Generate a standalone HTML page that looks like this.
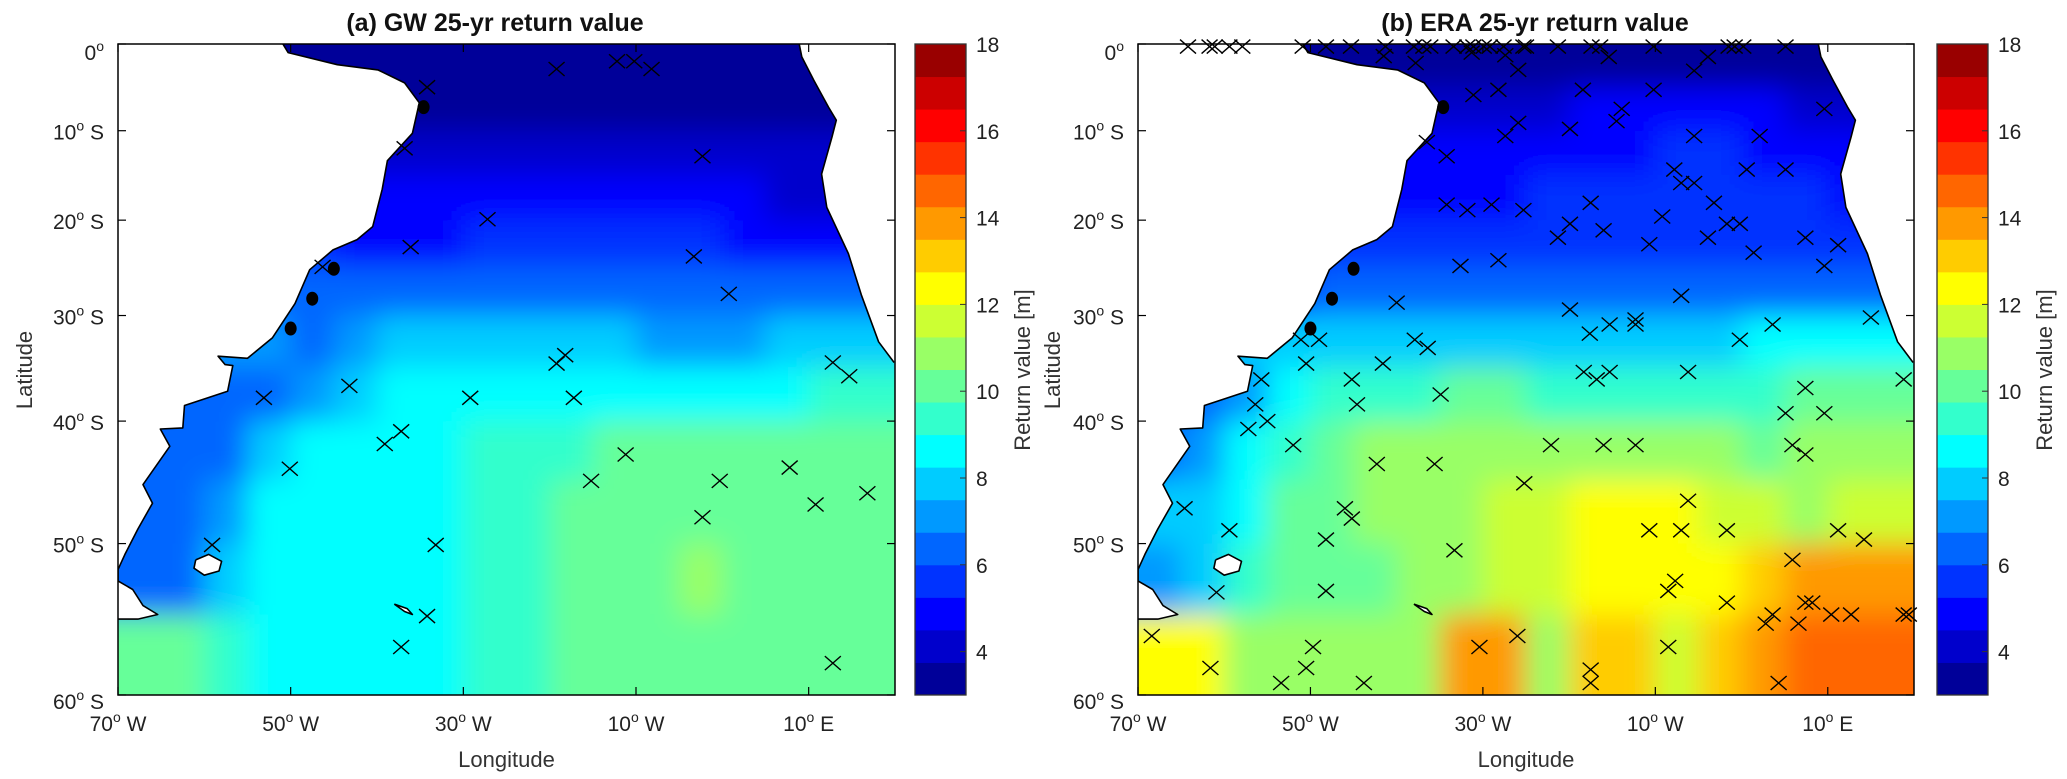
<!DOCTYPE html>
<html><head><meta charset="utf-8"><title>Return value maps</title>
<style>
html,body{margin:0;padding:0;background:#fff;}
svg{display:block;font-family:"Liberation Sans",Arial,sans-serif;}
</style></head>
<body>
<svg id="fig" width="2067" height="779" viewBox="0 0 2067 779" xmlns="http://www.w3.org/2000/svg">
<defs>
<filter id="soft" x="-10%" y="-10%" width="120%" height="120%"><feGaussianBlur stdDeviation="14"/></filter>
<clipPath id="clipA"><rect x="118" y="44" width="777" height="651"/></clipPath>
<clipPath id="clipB"><rect x="1138" y="44" width="776" height="651"/></clipPath>
</defs>
</svg>
<script>
// ---------- data ----------
const LAT_TICKS = [0, -10, -20, -30, -40, -50, -60];
const LON_TICKS = [-70, -50, -30, -10, 10];
const CB_TICKS = [4, 6, 8, 10, 12, 14, 16, 18];
const GRID_LAT_TOP = [0, -5, -10, -15, -20, -25, -30, -35, -40, -45, -50, -55];
const GRID_LON_LEFT = [-70, -65, -60, -55, -50, -45, -40, -35, -30, -25, -20, -15, -10, -5, 0, 5, 10, 15];

const gwGrid = [
 [3.3,3.3,3.3,3.3,3.3,3.3,3.3,3.3,3.3,3.3,3.3,3.3,3.3,3.3,3.3,3.3,3.3,3.3],
 [3.4,3.4,3.4,3.4,3.4,3.4,3.4,3.4,3.5,3.5,3.5,3.6,3.6,3.6,3.5,3.5,3.4,3.4],
 [3.8,3.8,3.8,3.8,3.8,3.8,3.8,3.9,4.0,4.1,4.1,4.2,4.3,4.3,4.2,4.0,3.8,3.8],
 [4.6,4.6,4.6,4.6,4.6,4.6,4.6,4.6,4.7,4.8,4.8,4.8,4.8,4.7,4.6,4.4,4.3,4.3],
 [5.3,5.3,5.3,5.3,5.3,5.2,5.2,5.2,5.3,5.3,5.3,5.3,5.3,5.3,5.2,5.0,4.9,4.9],
 [6.2,6.2,6.2,6.2,6.0,6.2,6.3,6.4,6.4,6.4,6.4,6.3,6.3,6.3,6.3,6.2,6.0,6.0],
 [7.0,7.0,7.0,7.0,6.6,7.2,7.6,7.8,7.8,7.6,7.6,7.5,7.4,7.4,7.4,7.5,7.5,7.5],
 [6.5,6.5,6.5,6.5,6.8,8.2,8.5,8.6,8.6,8.5,8.5,8.6,8.6,8.6,8.6,8.8,9.0,9.0],
 [6.0,6.0,6.4,7.8,8.6,8.8,8.8,8.9,9.2,9.5,9.6,9.8,9.8,9.9,9.9,10.0,9.9,9.9],
 [6.0,6.2,6.8,8.3,8.7,8.7,8.6,8.8,9.3,9.7,10.0,10.2,10.2,10.3,10.1,10.2,10.2,10.2],
 [6.0,6.5,7.8,8.6,8.7,8.7,8.6,8.8,9.2,9.5,10.2,10.3,10.4,10.6,10.2,10.2,10.3,10.3],
 [10.2,9.8,9.3,8.8,8.7,8.6,8.6,8.6,9.0,9.6,10.0,10.1,10.2,10.2,10.1,10.1,10.3,10.3]
];
const eraGrid = [
 [3.5,3.5,3.5,3.5,3.5,3.5,3.5,3.5,3.5,3.5,3.5,3.5,3.5,3.5,3.5,3.5,3.4,3.4],
 [4.0,4.0,4.0,4.0,4.0,4.0,4.0,4.0,4.0,4.4,4.6,4.7,4.7,4.7,4.6,4.4,4.0,3.8],
 [4.6,4.6,4.6,4.6,4.6,4.6,4.6,4.6,4.8,5.0,5.1,5.2,5.3,5.3,5.2,5.0,4.6,4.4],
 [5.0,5.0,5.0,5.0,5.0,5.0,5.0,5.0,5.2,5.3,5.4,5.6,5.6,5.5,5.4,5.3,5.0,4.8],
 [5.4,5.4,5.4,5.4,5.4,5.4,5.5,5.6,5.8,5.8,5.6,5.6,5.6,5.5,5.3,5.3,5.3,5.3],
 [5.5,5.5,5.5,5.5,6.0,6.3,6.4,6.4,6.4,6.4,6.4,6.4,6.4,6.4,6.4,6.4,6.3,6.3],
 [7.8,7.8,7.8,7.8,7.8,7.8,8.0,8.0,8.0,8.0,8.0,8.0,8.1,8.2,8.3,8.3,8.3,8.3],
 [6.5,6.5,7.0,8.5,9.0,9.4,9.6,9.8,9.8,9.6,9.5,9.5,9.6,9.7,9.7,10.0,10.2,10.2],
 [6.5,7.0,8.5,9.6,10.2,10.6,10.8,10.8,10.8,10.8,10.6,10.6,10.5,10.5,10.4,10.5,10.8,10.8],
 [7.5,7.8,8.8,9.8,10.2,10.5,10.8,11.2,11.6,11.8,12.0,12.1,12.0,11.6,11.3,11.2,11.3,11.3],
 [7.2,7.5,9.0,9.8,10.2,10.4,10.6,10.8,11.3,11.8,12.4,12.5,12.4,12.6,13.4,14.0,14.2,14.2],
 [12.2,12.0,11.2,10.8,10.8,11.0,11.2,13.5,14.2,11.2,12.8,13.2,11.6,12.8,14.0,14.3,14.5,14.5]
];

const gwCrossLon = [-19.2,-12.2,-10.2,-8.2,-34.2,-2.3,-27.2,-36.1,-3.3,0.75,-46.3,-36.8,-18.2,-19.2,12.8,-43.2,-53.1,-29.2,-17.2,14.7,-37.2,-39.1,-11.2,-50.1,-15.2,-0.3,7.8,16.8,10.8,-2.3,-59.1,-33.2,-34.2,-37.2,12.8];
const gwCrossLat = [-2.9,-2.0,-2.0,-2.9,-5.0,-12.9,-19.9,-22.9,-23.9,-27.8,-25.0,-12.0,-33.9,-34.7,-34.6,-36.8,-37.9,-37.9,-37.9,-35.9,-40.9,-42.0,-42.9,-44.1,-45.1,-45.1,-44.0,-46.1,-47.0,-48.0,-50.1,-50.1,-55.1,-57.1,-58.1];

const eraCrossLon = [-64.2,-61.7,-61.1,-59.4,-57.9,-50.9,-48.2,-45.3,-41.3,-38.0,-36.9,-36.1,-33.4,-31.8,-31.1,-29.9,-29.2,-27.6,-25.3,-25.0,-21.3,-17.4,-16.4,-10.2,-1.5,-0.8,0.2,5.1,
 -41.5,-37.8,-31.3,-27.4,-25.9,-31.1,-28.2,-25.9,-27.4,-36.5,-34.2,-34.2,-31.8,-29.0,-25.3,-32.6,-28.2,-40.0,-51.1,-49.0,-37.9,-36.4,-50.5,-41.6,-55.7,-45.2,-56.4,-44.6,-34.9,-55.0,-57.2,-52.0,-42.3,-35.6,-25.2,-64.6,-59.4,-46.0,-45.2,-48.2,-33.3,-60.9,-48.2,-68.4,-49.7,-30.4,-26.0,-61.6,-50.5,-53.4,-43.8,
 -15.4,-3.9,-5.5,-18.4,-10.2,9.6,-13.9,-14.5,-19.9,-5.5,2.1,-7.8,-7.0,-5.5,0.6,5.1,-3.2,-17.5,-19.9,-16.0,-21.3,-10.7,-9.2,-3.9,-1.7,-0.2,1.4,7.4,11.2,9.6,-7.0,-19.9,-15.3,-12.3,-12.3,-17.6,-0.2,3.6,15.0,-18.3,-16.8,-15.3,-6.2,18.8,7.4,5.1,9.6,5.9,7.4,-22.1,-16.0,-12.3,-6.2,-10.7,-7.0,-1.7,11.2,14.2,5.9,-7.7,-8.5,-1.7,7.4,8.2,3.6,2.8,6.6,10.4,12.7,18.8,19.4,-8.5,-17.5,-17.5,4.3];
const eraCrossLat = [-0.3,-0.3,-0.3,-0.3,-0.3,-0.3,-0.3,-0.3,-0.3,-0.3,-0.3,-0.3,-0.3,-0.3,-0.3,-0.3,-0.3,-0.3,-0.3,-0.3,-0.3,-0.3,-0.3,-0.3,-0.3,-0.3,-0.3,-0.3,
 -1.4,-2.2,-1.0,-1.3,-3.0,-5.9,-5.3,-9.1,-10.6,-11.3,-12.9,-18.3,-18.9,-18.3,-18.9,-24.9,-24.3,-28.7,-32.4,-32.4,-32.4,-33.2,-34.7,-34.7,-36.2,-36.2,-38.5,-38.5,-37.6,-40.0,-40.7,-42.1,-43.7,-43.7,-45.3,-47.3,-49.0,-47.3,-48.1,-49.7,-50.5,-53.5,-53.4,-56.4,-57.1,-57.1,-56.4,-58.4,-58.4,-59.3,-59.3,
 -1.5,-1.5,-3.1,-5.3,-5.3,-7.5,-7.5,-8.9,-9.8,-10.6,-10.6,-14.4,-15.9,-15.9,-14.4,-14.4,-18.1,-18.1,-20.4,-21.1,-21.9,-22.6,-19.6,-21.9,-20.4,-20.4,-23.5,-21.9,-22.7,-24.9,-28.0,-29.4,-30.9,-30.4,-30.9,-31.8,-32.4,-30.9,-30.2,-35.5,-36.2,-35.5,-35.5,-36.2,-37.0,-39.3,-39.3,-42.1,-42.9,-42.1,-42.1,-42.1,-46.7,-49.0,-49.0,-49.0,-49.0,-49.7,-51.2,-52.7,-53.4,-54.2,-54.2,-54.2,-55.0,-55.6,-55.6,-55.0,-55.0,-55.0,-55.0,-57.1,-58.5,-59.3,-59.3];

const dotLon = [-34.6,-45.0,-47.5,-50.0];
const dotLat = [-7.3,-25.2,-28.3,-31.3];

const saLon = [-50.9,-50.3,-44.6,-39.9,-36.8,-35.1,-35.9,-38.8,-39.4,-40.5,-42.3,-45.1,-47.8,-49.5,-52.1,-55.0,-58.4,-57.6,-56.7,-57.3,-62.3,-62.5,-65.1,-64.0,-67.1,-66.0,-67.7,-69.2,-70,-70,-68.3,-67.1,-65.4,-67.7,-70,-70];
const saLat = [0,-1.0,-2.4,-3.0,-4.5,-6.8,-10.3,-13.4,-16.6,-20.7,-22.1,-23.2,-25.3,-28.8,-32.2,-34.2,-34.0,-34.8,-34.9,-37.3,-38.6,-40.6,-40.7,-42.2,-45.4,-46.9,-48.9,-50.8,-51.9,-52.7,-53.3,-54.4,-55.0,-55.3,-55.3,0];
const afLon = [8.9,9.2,10.6,12.3,13.2,12.7,11.5,12.1,14.6,16.1,18.1,19.9,20,20];
const afLat = [0,-1.5,-4.2,-7.3,-8.8,-10.7,-14.9,-18.6,-23.6,-27.9,-32.6,-34.6,-34.6,0];
const fkLon = [-61.0,-59.5,-58.0,-58.3,-60.0,-61.2];
const fkLat = [-51.2,-50.8,-51.3,-52.0,-52.3,-51.8];
const sgLon = [-38.0,-36.5,-35.9,-36.8];
const sgLat = [-54.3,-54.6,-55.0,-54.8];

// ---------- helpers ----------
const NS = 'http://www.w3.org/2000/svg';
const svg = document.getElementById('fig');
const Y0 = 44, H = 651, VMIN = 3, VMAX = 18, NLEV = 20;
function mk(tag, attrs, parent) {
  const e = document.createElementNS(NS, tag);
  for (const k in attrs) e.setAttribute(k, attrs[k]);
  (parent || svg).appendChild(e);
  return e;
}
function jet(t) {
  const c = v => Math.round(255 * Math.max(0, Math.min(1, v)));
  return 'rgb(' + c(1.5 - Math.abs(4 * t - 3)) + ',' + c(1.5 - Math.abs(4 * t - 2)) + ',' + c(1.5 - Math.abs(4 * t - 1)) + ')';
}
function colorOf(v) {
  let k = Math.floor((v - VMIN) / ((VMAX - VMIN) / NLEV));
  k = Math.max(0, Math.min(NLEV - 1, k));
  return jet((k + 0.5) / NLEV);
}
function py(lat) { return Y0 + 494.3 * Math.log(Math.tan(Math.PI / 4 + (-lat) * Math.PI / 360)); }
function degLabel(parent, x, y, num, suffix, anchor, name) {
  const t = mk('text', {x: x, y: y, 'font-size': 21, fill: '#222', 'text-anchor': anchor}, parent);
  
  
  t.appendChild(document.createTextNode(num));
  const s = mk('tspan', {'font-size': 14, dy: -9}, t);
  s.textContent = 'o';
  const r = mk('tspan', {dy: 9}, t);
  r.textContent = suffix ? '\u00a0' + suffix : '';
  return t;
}

function drawPanel(p) {
  const px = lon => p.x0 + (lon + 70) * p.w / 90;
  const g = mk('g', {});
  
  

  const title = mk('text', {x: p.titleX, y: 31, 'font-size': 25, 'font-weight': 'bold', 'text-anchor': 'middle', fill: '#111'}, g);
  
  
  title.textContent = p.title;

  const clipG = mk('g', {'clip-path': 'url(#' + p.clip + ')'}, g);
  
  
  const bg = mk('rect', {x: p.x0, y: Y0, width: p.w, height: H, fill: '#fff'}, clipG);
  
  
  const field = mk('g', {filter: 'url(#soft)'}, clipG);
  
  
  for (let r = 0; r < p.grid.length; r++) {
    for (let c = 0; c < p.grid[r].length; c++) {
      const lat0 = GRID_LAT_TOP[r], lon0 = GRID_LON_LEFT[c];
      let x1 = px(lon0), x2 = px(lon0 + 5), y1 = py(lat0), y2 = py(lat0 - 5);
      if (c === 0) x1 -= 40;
      if (c === p.grid[r].length - 1) x2 += 40;
      if (r === 0) y1 -= 40;
      if (r === p.grid.length - 1) y2 += 40;
      const cell = mk('rect', {x: x1, y: y1, width: x2 - x1 + 0.5, height: y2 - y1 + 0.5, fill: colorOf(p.grid[r][c])}, field);
      
      
    }
  }
  const landShapes = [[saLon, saLat, 'south-america'], [afLon, afLat, 'africa'], [fkLon, fkLat, 'falkland-islands'], [sgLon, sgLat, 'south-georgia']];
  landShapes.forEach(function (L) {
    const pts = L[0].map((lo, i) => px(lo).toFixed(1) + ',' + py(L[1][i]).toFixed(1)).join(' ');
    const land = mk('polygon', {points: pts, fill: '#fff', stroke: 'none'}, clipG);
    
    
  });
  const coastSets = [[saLon.slice(0, 35), saLat.slice(0, 35)], [afLon.slice(0, 12), afLat.slice(0, 12)], [fkLon.concat([fkLon[0]]), fkLat.concat([fkLat[0]])], [sgLon.concat([sgLon[0]]), sgLat.concat([sgLat[0]])]];
  coastSets.forEach(function (L) {
    const pts = L[0].map((lo, i) => px(lo).toFixed(1) + ',' + py(L[1][i]).toFixed(1)).join(' ');
    const line = mk('polyline', {points: pts, fill: 'none', stroke: '#000', 'stroke-width': 1.6, 'stroke-linejoin': 'round'}, clipG);
    
    
  });
  for (let i = 0; i < p.cLon.length; i++) {
    const x = px(p.cLon[i]), y = py(p.cLat[i]);
    const cr = mk('path', {d: 'M' + (x - 8) + ' ' + (y - 7) + 'L' + (x + 8) + ' ' + (y + 7) + 'M' + (x - 8) + ' ' + (y + 7) + 'L' + (x + 8) + ' ' + (y - 7), stroke: '#000', 'stroke-width': 1.4, fill: 'none'}, g);
    
    
  }
  for (let i = 0; i < dotLon.length; i++) {
    const d = mk('ellipse', {cx: px(dotLon[i]), cy: py(dotLat[i]), rx: 6, ry: 7, fill: '#000'}, g);
    
    
  }
  const frame = mk('rect', {x: p.x0, y: Y0, width: p.w, height: H, fill: 'none', stroke: '#000', 'stroke-width': 1.5}, g);
  
  
  LAT_TICKS.forEach(function (lat) {
    const y = py(lat);
    const t1 = mk('line', {x1: p.x0, x2: p.x0 + 8, y1: y, y2: y, stroke: '#000', 'stroke-width': 1.2}, g);
    
    
    const t2 = mk('line', {x1: p.x0 + p.w - 8, x2: p.x0 + p.w, y1: y, y2: y, stroke: '#000', 'stroke-width': 1.2}, g);
    
    
    const ly = lat === 0 ? y + 16 : (lat === -60 ? y + 14 : y + 9);
    degLabel(g, p.x0 - 14, ly, String(Math.abs(lat)), lat === 0 ? '' : 'S', 'end', 'lat-tick-label');
  });
  LON_TICKS.forEach(function (lon) {
    const x = px(lon);
    const t1 = mk('line', {x1: x, x2: x, y1: Y0 + H, y2: Y0 + H - 8, stroke: '#000', 'stroke-width': 1.2}, g);
    
    
    const t2 = mk('line', {x1: x, x2: x, y1: Y0, y2: Y0 + 8, stroke: '#000', 'stroke-width': 1.2}, g);
    
    
    degLabel(g, x, 731, String(Math.abs(lon)), lon < 0 ? 'W' : 'E', 'middle', 'lon-tick-label');
  });
  const xl = mk('text', {x: p.x0 + p.w / 2, y: 767, 'font-size': 22, 'text-anchor': 'middle', fill: '#333'}, g);
  
  
  xl.textContent = 'Longitude';
  const yl = mk('text', {x: 0, y: 0, 'font-size': 22, 'text-anchor': 'middle', fill: '#333', transform: 'translate(' + p.ylabX + ',370) rotate(-90)'}, g);
  
  
  yl.textContent = 'Latitude';

  const cb = mk('g', {}, g);
  
  
  const step = (VMAX - VMIN) / NLEV;
  for (let k = 0; k < NLEV; k++) {
    const v0 = VMIN + k * step;
    const ya = Y0 + H - (v0 + step - VMIN) / (VMAX - VMIN) * H;
    const band = mk('rect', {x: p.cbx, y: ya, width: 51, height: H / NLEV + 0.5, fill: colorOf(v0 + step / 2)}, cb);
    
    
  }
  const cbf = mk('rect', {x: p.cbx, y: Y0, width: 51, height: H, fill: 'none', stroke: '#333', 'stroke-width': 1.3}, cb);
  
  
  CB_TICKS.forEach(function (v) {
    const y = Y0 + H - (v - VMIN) / (VMAX - VMIN) * H;
    const tk = mk('line', {x1: p.cbx + 45, x2: p.cbx + 51, y1: y, y2: y, stroke: '#333', 'stroke-width': 1}, cb);
    
    
    const lb = mk('text', {x: p.cbx + 61, y: y + 8, 'font-size': 21, fill: '#222'}, cb);
    
    
    lb.textContent = String(v);
  });
  const cbt = mk('text', {x: 0, y: 0, 'font-size': 22, 'text-anchor': 'middle', fill: '#333', transform: 'translate(' + (p.cbx + 115) + ',370) rotate(-90)'}, cb);
  
  
  cbt.textContent = 'Return value [m]';
}

drawPanel({name: 'gw', title: '(a) GW 25-yr return value', titleX: 495, x0: 118, w: 777, cbx: 915, clip: 'clipA', grid: gwGrid, cLon: gwCrossLon, cLat: gwCrossLat, ylabX: 32});
drawPanel({name: 'era', title: '(b) ERA 25-yr return value', titleX: 1535, x0: 1138, w: 776, cbx: 1937, clip: 'clipB', grid: eraGrid, cLon: eraCrossLon, cLat: eraCrossLat, ylabX: 1060});
</script>
</body></html>
